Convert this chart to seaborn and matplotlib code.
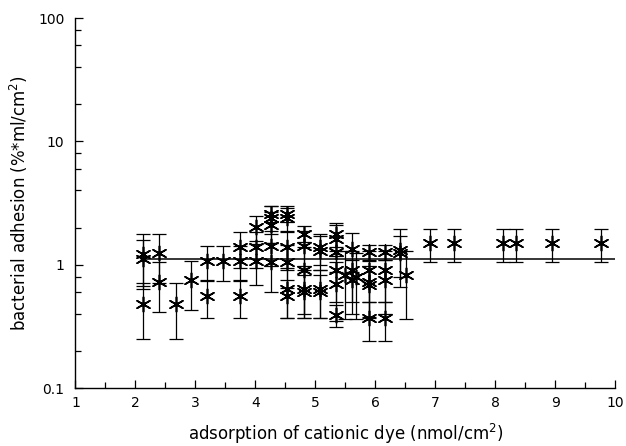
import matplotlib
matplotlib.use("Agg")
import matplotlib.pyplot as plt
import seaborn as sns
import pandas as pd
import numpy as np
from matplotlib.ticker import FixedLocator, NullFormatter

# adsorption (nmol/cm2), adhesion (%*ml/cm2) and its error
dye = [2.13, 2.13, 2.13, 2.40, 2.40, 2.67, 2.92, 3.20, 3.20, 3.46,
       3.74, 3.74, 3.74, 4.01, 4.01, 4.01,
       4.26, 4.26, 4.26, 4.26, 4.26,
       4.52, 4.52, 4.52, 4.52, 4.52, 4.52,
       4.81, 4.81, 4.81, 4.81, 4.81,
       5.08, 5.08, 5.08, 5.08,
       5.34, 5.34, 5.34, 5.34, 5.34, 5.34,
       5.49, 5.61, 5.61, 5.61, 5.67,
       5.89, 5.89, 5.89, 5.89, 5.89,
       6.16, 6.16, 6.16, 6.16,
       6.41, 6.41, 6.51,
       6.91, 7.31, 8.13, 8.34, 8.95, 9.76]
adhesion = [1.23, 1.12, 0.48, 1.25, 0.73, 0.48, 0.75, 1.08, 0.56, 1.08,
            1.39, 1.08, 0.56, 2.02, 1.39, 1.08,
            2.60, 2.37, 2.09, 1.43, 1.05,
            2.60, 2.37, 1.39, 1.05, 0.64, 0.56,
            1.79, 1.43, 0.90, 0.64, 0.60,
            1.39, 1.30, 0.64, 0.60,
            1.79, 1.63, 1.27, 0.90, 0.70, 0.39,
            0.82, 1.35, 0.90, 0.75, 0.80,
            1.27, 0.90, 0.72, 0.68, 0.37,
            1.27, 0.90, 0.75, 0.37,
            1.31, 1.25, 0.82,
            1.50, 1.50, 1.50, 1.50, 1.50, 1.50]
error = [0.56, 0.48, 0.23, 0.54, 0.32, 0.23, 0.32, 0.34, 0.19, 0.34,
         0.45, 0.34, 0.19, 0.46, 0.45, 0.40,
         0.38, 0.60, 0.60, 0.45, 0.45,
         0.38, 0.50, 0.45, 0.40, 0.27, 0.19,
         0.26, 0.45, 0.50, 0.27, 0.23,
         0.40, 0.40, 0.27, 0.23,
         0.39, 0.45, 0.40, 0.40, 0.35, 0.08,
         0.46, 0.47, 0.40, 0.35, 0.44,
         0.18, 0.40, 0.35, 0.30, 0.13,
         0.18, 0.40, 0.35, 0.13,
         0.65, 0.45, 0.46,
         0.45, 0.45, 0.45, 0.45, 0.45, 0.45]
fit_x = [2.1, 10.0]
fit_y = [1.12, 1.12]

df = pd.DataFrame({"dye": dye, "adhesion": adhesion, "err": error})
fit = pd.DataFrame({"dye": fit_x, "adhesion": fit_y})

sns.set_style("ticks")
plt.rcParams["font.family"] = ["DejaVu Sans"]
plt.rcParams["text.color"] = "black"
plt.rcParams["axes.labelcolor"] = "black"
plt.rcParams["xtick.color"] = "black"
plt.rcParams["ytick.color"] = "black"

fig = plt.figure(figsize=(6.26, 4.46), dpi=100)
ax = fig.add_axes([0.1206, 0.130, 0.8626, 0.8296])

ax.errorbar(df["dye"], df["adhesion"], yerr=df["err"], fmt="none",
            ecolor="black", elinewidth=0.9, capsize=5, capthick=0.9)
sns.lineplot(data=fit, x="dye", y="adhesion", color="black", linewidth=1.1, ax=ax)
sns.scatterplot(data=df, x="dye", y="adhesion", marker=(6, 2, 0), s=110,
                color="black", linewidth=1.2, ax=ax, zorder=3)
sns.scatterplot(data=df, x="dye", y="adhesion", marker="o", s=10,
                color="black", linewidth=0, ax=ax, zorder=4)

ax.set_yscale("log")
ax.set_xlim(1, 10)
ax.set_ylim(0.1, 100)
ax.set_xticks(range(1, 11))
ax.xaxis.set_minor_locator(FixedLocator(np.arange(1.5, 10, 1.0)))
ax.set_yticks([0.1, 1, 10, 100])
ax.set_yticklabels(["0.1", "1", "10", "100"])
minor = [m * d for d in (0.1, 1, 10) for m in (2, 4, 6, 8)]
ax.yaxis.set_minor_locator(FixedLocator(minor))
ax.yaxis.set_minor_formatter(NullFormatter())

ax.tick_params(which="both", direction="in", colors="black", width=0.9, labelsize=10)
ax.tick_params(which="major", length=6)
ax.tick_params(which="minor", length=4)
ax.tick_params(axis="y", pad=8)
ax.tick_params(axis="x", pad=6)

ax.set_xlabel("adsorption of cationic dye (nmol/cm$^2$)", fontsize=12, labelpad=8)
ax.set_ylabel("bacterial adhesion (%*ml/cm$^2$)", fontsize=12, labelpad=6)

sns.despine(ax=ax)
for s in ("left", "bottom"):
    ax.spines[s].set_color("black")
    ax.spines[s].set_linewidth(1.0)

fig.savefig("out.png", dpi=100)
